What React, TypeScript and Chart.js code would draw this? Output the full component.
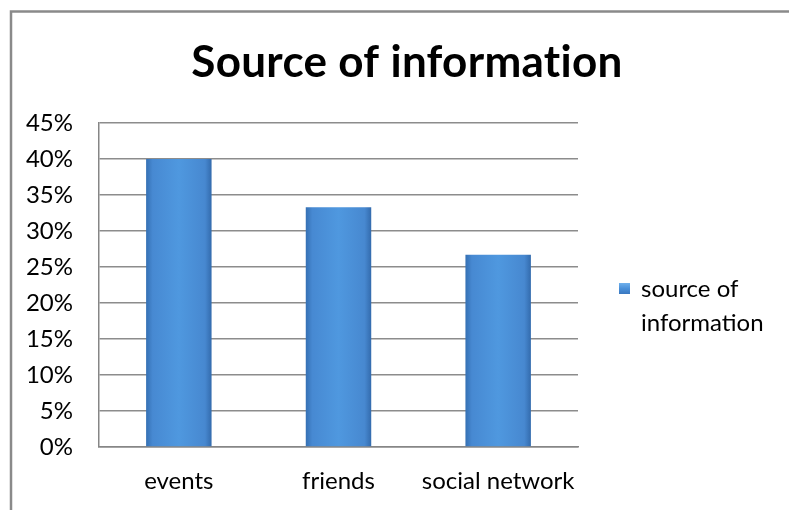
import React, { useEffect, useRef } from "react";
import { Chart, registerables } from "chart.js";

Chart.register(...registerables);

const categories = ["events", "friends", "social network"];
const seriesLabel = "source of information";
const legendLines = ["source of", "information"];
const values = [0.4, 0.333, 0.267];
const titleText = "Source of information";
const yMin = 0;
const yMax = 0.45;
const yStep = 0.05;

const FONT = "Lato, 'Open Sans', sans-serif";

function barGradient(ctx: CanvasRenderingContext2D, x0: number, x1: number) {
  const g = ctx.createLinearGradient(x0, 0, x1, 0);
  g.addColorStop(0, "#3570b3");
  g.addColorStop(0.1, "#4789d2");
  g.addColorStop(0.5, "#4f98df");
  g.addColorStop(0.9, "#4788d0");
  g.addColorStop(1, "#336bad");
  return g;
}

const decorPlugin = {
  id: "decor",
  beforeDraw(chart: any) {
    const ctx = chart.ctx as CanvasRenderingContext2D;
    ctx.save();
    ctx.fillStyle = "#ffffff";
    ctx.fillRect(0, 0, chart.width, chart.height);
    ctx.restore();
  },
  afterDraw(chart: any) {
    const ctx = chart.ctx as any;
    ctx.save();
    // frame
    ctx.strokeStyle = "#8a8a8a";
    ctx.lineWidth = 2.5;
    ctx.beginPath();
    ctx.moveTo(11, chart.height);
    ctx.lineTo(11, 11.5);
    ctx.lineTo(chart.width, 11.5);
    ctx.stroke();
    // title
    ctx.fillStyle = "#000000";
    ctx.font = `bold 44px ${FONT}`;
    try { ctx.letterSpacing = "0.3px"; } catch (e) {}
    ctx.textAlign = "center";
    ctx.textBaseline = "alphabetic";
    ctx.fillText(titleText, 407, 77);
    try { ctx.letterSpacing = "0px"; } catch (e) {}
    // legend
    const mx = 619, my = 283, ms = 11;
    const lg = ctx.createLinearGradient(0, my, 0, my + ms);
    lg.addColorStop(0, "#6fb0ec");
    lg.addColorStop(0.5, "#4a90d9");
    lg.addColorStop(1, "#3a78c0");
    ctx.fillStyle = lg;
    ctx.fillRect(mx, my, ms, ms);
    ctx.fillStyle = "#000000";
    ctx.font = `24px ${FONT}`;
    ctx.textAlign = "left";
    ctx.fillText(legendLines[0], 641, 297);
    ctx.fillText(legendLines[1], 641, 331);
    ctx.restore();
  },
};

export default function App() {
  const ref = useRef<HTMLCanvasElement | null>(null);
  useEffect(() => {
    document.body.style.margin = "0";
    const canvas = ref.current;
    if (!canvas) return;
    const chart = new Chart(canvas, {
      type: "bar",
      data: {
        labels: categories,
        datasets: [
          {
            label: seriesLabel,
            data: values,
            backgroundColor: (c: any) => {
              const ch = c.chart;
              if (!ch.chartArea || !ch.scales.x) return "#4a8fd6";
              const xs = ch.scales.x;
              const cx = xs.getPixelForValue(c.dataIndex);
              const w = (xs.width / categories.length) * 0.41;
              return barGradient(ch.ctx, cx - w / 2, cx + w / 2);
            },
            borderWidth: 0,
            categoryPercentage: 1,
            barPercentage: 0.41,
          },
        ],
      },
      options: {
        responsive: false,
        animation: false,
        layout: { padding: { top: 123, right: 211, bottom: 0, left: 0 } },
        plugins: {
          legend: { display: false },
          title: { display: false },
          tooltip: { enabled: false },
        },
        scales: {
          x: {
            grid: { display: false, drawTicks: false },
            border: { display: true, color: "#868686", width: 1.5 },
            ticks: { color: "#000", font: { family: FONT, size: 24 }, padding: 20 },
            afterFit: (s: any) => {
              s.height = 63;
            },
          },
          y: {
            min: yMin,
            max: yMax,
            grid: { color: "#8c8c8c", lineWidth: 1.5, drawTicks: false },
            border: { display: true, color: "#868686", width: 1.5 },
            ticks: {
              stepSize: yStep,
              color: "#000",
              font: { family: FONT, size: 24 },
              padding: 26,
              callback: (v: any) => `${Math.round(Number(v) * 100)}%`,
            },
            afterFit: (s: any) => {
              s.width = 99;
            },
          },
        },
      },
      plugins: [decorPlugin],
    });
    return () => chart.destroy();
  }, []);
  return (
    <div style={{ position: "absolute", left: 0, top: 0, width: 789, height: 510 }}>
      <canvas ref={ref} width={789} height={510} />
    </div>
  );
}
